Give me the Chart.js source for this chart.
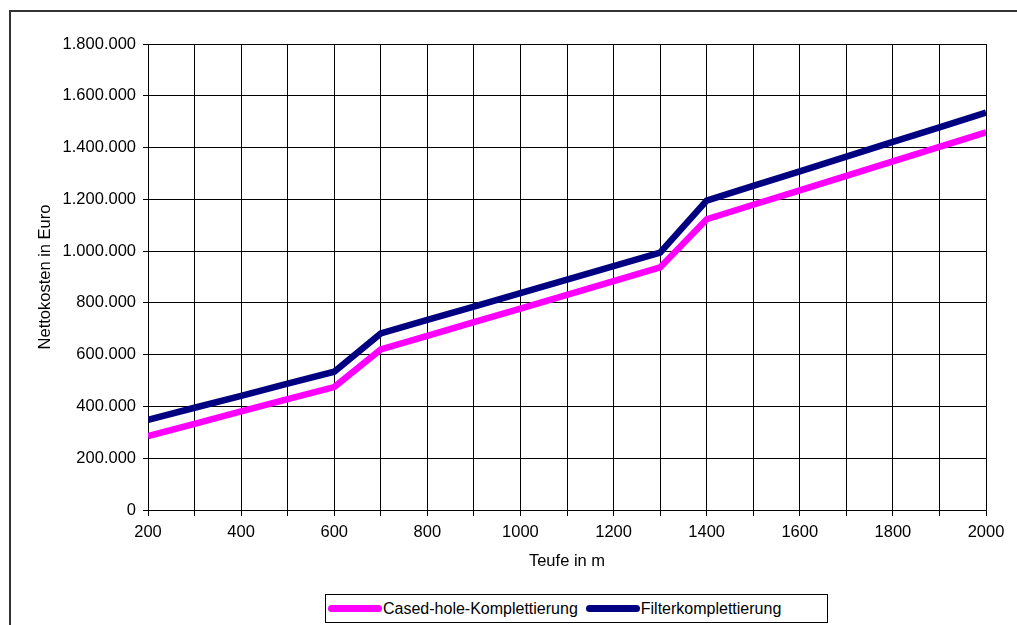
<!DOCTYPE html>
<html>
<head>
<meta charset="utf-8">
<script src="https://cdn.jsdelivr.net/npm/chart.js@4"></script>
<style>
  body { margin: 0; background: #fff; overflow: hidden; }
  #wrap { position: relative; width: 1017px; height: 625px; }
  #frame { position: absolute; left: 9px; top: 10px; width: 1100px; height: 700px; border: 2px solid #333; box-sizing: border-box; }
  canvas { position: absolute; left: 0; top: 0; }
  #legend { position: absolute; left: 325px; top: 594px; width: 503px; height: 29px; border: 1px solid #000; box-sizing: border-box;
    font: 16px "Liberation Sans", Arial, sans-serif; display: flex; align-items: center; padding-left: 2px; background: #fff; }
  .item { display: flex; align-items: center; margin-right: 8px; }
  .swatch { display: inline-block; width: 54px; height: 7px; border-radius: 4px; margin-right: 1px; }
</style>
</head>
<body>
<div id="wrap">
  <div id="frame"></div>
  <canvas id="chart" width="1017" height="625"></canvas>
  <div id="legend"></div>
</div>
<script>
// Teufe in m
const teufe = [200, 300, 400, 500, 600, 700, 800, 900, 1000, 1100, 1200, 1300, 1400, 1500, 1600, 1700, 1800, 1900, 2000];
// Nettokosten in Euro
const casedHole = [285000, 333000, 381000, 428000, 475000, 620000, 673000, 726000, 778000, 831000, 884000, 937000, 1123000, 1179000, 1235000, 1291000, 1347000, 1403000, 1459000];
const filter = [348000, 395000, 441000, 488000, 534000, 682000, 734000, 786000, 838000, 890000, 942000, 994000, 1195000, 1252000, 1308000, 1365000, 1422000, 1478000, 1535000];
const seriesNames = ["Cased-hole-Komplettierung", "Filterkomplettierung"];
const seriesColors = ["#FF00FF", "#000080"];

const font = { family: "'Liberation Sans', Arial, sans-serif", size: 16.5 };

// Tausenderpunkte wie im Original
const fmt = v => String(v).replace(/\B(?=(\d{3})+(?!\d))/g, ".");

const chart = new Chart(document.getElementById("chart").getContext("2d"), {
  type: "line",
  data: {
    datasets: [casedHole, filter].map((vals, i) => ({
      label: seriesNames[i],
      data: teufe.map((x, j) => ({ x: x, y: vals[j] })),
      borderColor: seriesColors[i],
      backgroundColor: seriesColors[i],
      borderWidth: 6.5,
      pointRadius: 0,
      tension: 0,
    })),
  },
  options: {
    responsive: false,
    animation: false,
    devicePixelRatio: 1,
    layout: { padding: { left: 0, top: 44, right: 31, bottom: 50 } },
    plugins: { legend: { display: false }, tooltip: { enabled: false } },
    scales: {
      x: {
        type: "linear",
        min: 200,
        max: 2000,
        afterFit: s => { s.height = 65; },
        ticks: {
          stepSize: 100,
          autoSkip: false,
          maxRotation: 0,
          padding: 7,
          color: "#000",
          font: font,
          callback: v => (v % 200 === 0 ? String(v) : ""),
        },
        grid: { color: "#000", lineWidth: 1, tickLength: 6 },
        border: { color: "#000", width: 1 },
        title: { display: true, text: "Teufe in m", color: "#000", font: font, padding: { top: 0, bottom: 4 } },
      },
      y: {
        min: 0,
        max: 1800000,
        afterFit: s => { s.width = 148; },
        ticks: { stepSize: 200000, padding: 7, color: "#000", font: font, callback: v => fmt(v) },
        grid: { color: "#000", lineWidth: 1, tickLength: 5 },
        border: { color: "#000", width: 1 },
        title: { display: true, text: "Nettokosten in Euro", color: "#000", font: font, padding: { top: 36, bottom: 0 } },
      },
    },
  },
});

// Legende wie im Original (Kasten unten)
const legend = document.getElementById("legend");
chart.data.datasets.forEach(ds => {
  const item = document.createElement("span");
  item.className = "item";
  item.innerHTML = '<span class="swatch" style="background:' + ds.borderColor + '"></span>' + ds.label;
  legend.appendChild(item);
});
</script>
</body>
</html>
